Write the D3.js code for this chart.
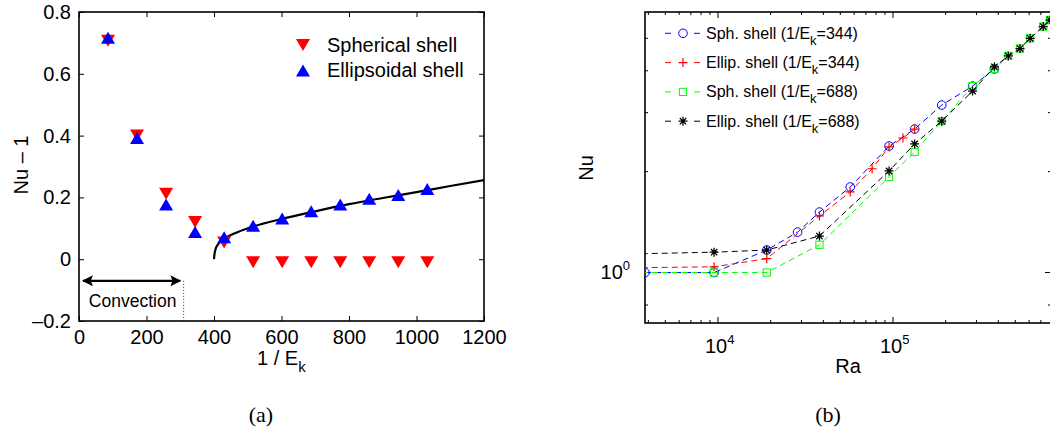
<!DOCTYPE html>
<html><head><meta charset="utf-8">
<script src="https://cdn.jsdelivr.net/npm/d3@7"></script>
<style>
body{margin:0;background:#fff}
text{font-family:"Liberation Sans",Arial,Helvetica,sans-serif;fill:#000}
text.serif{font-family:"Liberation Serif","DejaVu Serif",serif}
</style>
</head><body>
<svg id="c" width="1050" height="435"></svg>
<script>
// ---------- Panel (a) data ----------
const invEk   = [86,172,258,344,430,516,602,688,774,860,946,1032];
const sphNu1  = [0.707,0.400,0.212,0.120,0.054,-0.01,-0.01,-0.01,-0.01,-0.01,-0.01,-0.01];
const ellNu1  = [0.717,0.392,0.177,0.088,0.071,0.108,0.132,0.155,0.177,0.196,0.208,0.227];
const fitInvEk = [400,401,404,410,425,450,500,600,700,800,900,1000,1100,1200];
const fitNu1   = [0,0.012,0.030,0.045,0.062,0.078,0.100,0.130,0.155,0.178,0.198,0.217,0.237,0.256];
const xTicksA = [0,200,400,600,800,1000,1200];
const yTicksA = [-0.2,0,0.2,0.4,0.6,0.8];
const convRange = [12,300];
const convLevel = -0.07;
const onsetLine = 310;

// ---------- Panel (b) data ----------
const raSph344 = [3830,9500,19000,28500,38000,57000,95000,133000,190000,285000,380000];
const nuSph344 = [1.0,1.0,1.167,1.32,1.515,1.80,2.385,2.68,3.16,3.6,4.05];
const raEll344 = [1900,9500,19000,38000,57000,76000,95000,114000,133000];
const nuEll344 = [1.03,1.04,1.10,1.475,1.74,2.04,2.37,2.52,2.68];
const raSph688 = [1900,9500,19000,38000,95000,133000,190000,285000,380000,456000,532000,608000,722000,790000];
const nuSph688 = [1.0,1.0,1.0,1.21,1.93,2.29,2.83,3.6,4.05,4.43,4.66,5.0,5.42,5.67];
const raEll688 = [1900,9500,19000,38000,95000,133000,190000,285000,380000,456000,532000,608000,722000,790000];
const nuEll688 = [1.13,1.15,1.167,1.285,2.01,2.42,2.83,3.48,4.11,4.43,4.66,5.0,5.42,5.67];
const xMajorB = [1e4,1e5];
const xMinorB = [4000,5000,6000,7000,8000,9000,20000,30000,40000,50000,60000,70000,80000,90000,200000,300000,400000,500000,600000,700000,800000];
const yMajorB = [1];
const yMinorB = [0.8,2,3,4,5];
const legendB = ["Sph. shell (1/E|k|=344)","Ellip. shell (1/E|k|=344)","Sph. shell (1/E|k|=688)","Ellip. shell (1/E|k|=688)"];

const svg = d3.select("#c");

// =============== Panel (a) ===============
const A = {l:79, r:484, t:12, b:321};
const xa = d3.scaleLinear().domain([0,1200]).range([A.l,A.r]);
const ya = d3.scaleLinear().domain([-0.2,0.8]).range([A.b,A.t]);
const ga = svg.append("g");
ga.append("defs").append("clipPath").attr("id","clipA")
  .append("rect").attr("x",A.l).attr("y",A.t).attr("width",A.r-A.l).attr("height",A.b-A.t);

function boxAxes(g, x, y, box, xt, yt, fmtX, fmtY, fs){
  g.append("g").attr("transform",`translate(0,${box.b})`)
    .call(d3.axisBottom(x).tickValues(xt).tickSize(-5).tickPadding(9).tickFormat(fmtX));
  g.append("g").attr("transform",`translate(0,${box.t})`)
    .call(d3.axisTop(x).tickValues(xt).tickSize(-5).tickFormat(""));
  g.append("g").attr("transform",`translate(${box.l},0)`)
    .call(d3.axisLeft(y).tickValues(yt).tickSize(-5).tickPadding(8).tickFormat(fmtY));
  g.append("g").attr("transform",`translate(${box.r},0)`)
    .call(d3.axisRight(y).tickValues(yt).tickSize(-5).tickFormat(""));
  g.selectAll(".domain").remove();
  g.selectAll(".tick line").attr("stroke","#000").attr("stroke-width",1);
  g.selectAll(".tick text").style("font-size",fs).style("font-family","Liberation Sans, Arial, sans-serif").attr("fill","#000");
}
boxAxes(ga, xa, ya, A, xTicksA, yTicksA, d3.format("d"),
  d => d===0 ? "0" : (d<0 ? "\u2013"+Math.abs(d).toFixed(1) : d.toFixed(1)), "20px");
ga.append("rect").attr("x",A.l).attr("y",A.t).attr("width",A.r-A.l).attr("height",A.b-A.t)
  .attr("fill","none").attr("stroke","#000").attr("stroke-width",1.6);

// fit curve
ga.append("path").datum(fitInvEk.map((v,i)=>[v,fitNu1[i]]))
  .attr("clip-path","url(#clipA)")
  .attr("d", d3.line().x(d=>xa(d[0])).y(d=>ya(d[1])).curve(d3.curveMonotoneX))
  .attr("fill","none").attr("stroke","#000").attr("stroke-width",2.2);

const triDown = "M0,6L-7,-6L7,-6Z", triUp = "M0,-6L7,6L-7,6Z";
ga.selectAll(".sph").data(invEk).join("path")
  .attr("d",triDown).attr("fill","#ff0000")
  .attr("transform",(d,i)=>`translate(${xa(d)},${ya(sphNu1[i])})`);
ga.selectAll(".ell").data(invEk).join("path")
  .attr("d",triUp).attr("fill","#0000ff")
  .attr("transform",(d,i)=>`translate(${xa(d)},${ya(ellNu1[i])})`);

// convection arrow
const defs = ga.select("defs");
defs.append("marker").attr("id","arr").attr("viewBox","0 0 10 10").attr("refX",9).attr("refY",5)
  .attr("markerWidth",5).attr("markerHeight",5).attr("orient","auto-start-reverse")
  .attr("markerUnits","strokeWidth")
  .append("path").attr("d","M0,0L10,5L0,10L2,5Z").attr("fill","#000");
ga.append("line").attr("x1",xa(convRange[0])).attr("x2",xa(convRange[1]))
  .attr("y1",ya(convLevel)).attr("y2",ya(convLevel))
  .attr("stroke","#000").attr("stroke-width",2.2)
  .attr("marker-start","url(#arr)").attr("marker-end","url(#arr)");
ga.append("line").attr("x1",xa(onsetLine)).attr("x2",xa(onsetLine))
  .attr("y1",ya(convLevel)).attr("y2",A.b)
  .attr("stroke","#000").attr("stroke-width",0.8).attr("stroke-dasharray","1,2");
ga.append("text").attr("x",(xa(convRange[0])+xa(convRange[1]))/2+1).attr("y",307)
  .attr("text-anchor","middle").style("font-size","17.5px").text("Convection");

// legend (a)
const legA = [["Spherical shell",triDown,"#ff0000"],["Ellipsoidal shell",triUp,"#0000ff"]];
legA.forEach((d,i)=>{
  const yy = 45 + i*25.5;
  ga.append("path").attr("d",d[1]).attr("fill",d[2]).attr("transform",`translate(303,${yy})`);
  ga.append("text").attr("x",327).attr("y",yy+6.5).style("font-size","20px").text(d[0]);
});

// labels (a)
ga.append("text").attr("transform","translate(28,165) rotate(-90)")
  .attr("text-anchor","middle").style("font-size","20px").text("Nu \u2013 1");
const xl = ga.append("text").attr("x",257).attr("y",365).style("font-size","20px");
xl.append("tspan").text("1 / E");
xl.append("tspan").attr("dy",7).style("font-size","15px").text("k");
svg.append("text").attr("class","serif").attr("x",261).attr("y",422).attr("text-anchor","middle")
  .style("font-size","22px").text("(a)");

// =============== Panel (b) ===============
const B = {l:645, r:1051, t:12, b:323};
const xb = d3.scaleLog().domain([3828,8.0e5]).range([B.l,B.r]);
const yb = d3.scaleLog().domain([0.707,5.99]).range([B.b,B.t]);
const gb = svg.append("g");
gb.append("defs").append("clipPath").attr("id","clipB")
  .append("rect").attr("x",B.l).attr("y",B.t).attr("width",B.r-B.l).attr("height",B.b-B.t);

function ticksB(){
  const g = gb.append("g").attr("stroke","#000").attr("stroke-width",1);
  xMajorB.forEach(v=>{
    g.append("line").attr("x1",xb(v)).attr("x2",xb(v)).attr("y1",B.b).attr("y2",B.b-6);
    g.append("line").attr("x1",xb(v)).attr("x2",xb(v)).attr("y1",B.t).attr("y2",B.t+6);
  });
  xMinorB.forEach(v=>{
    g.append("line").attr("x1",xb(v)).attr("x2",xb(v)).attr("y1",B.b).attr("y2",B.b-3);
    g.append("line").attr("x1",xb(v)).attr("x2",xb(v)).attr("y1",B.t).attr("y2",B.t+3);
  });
  yMajorB.forEach(v=>{
    g.append("line").attr("y1",yb(v)).attr("y2",yb(v)).attr("x1",B.l).attr("x2",B.l+6);
    g.append("line").attr("y1",yb(v)).attr("y2",yb(v)).attr("x1",B.r).attr("x2",B.r-6);
  });
  yMinorB.forEach(v=>{
    g.append("line").attr("y1",yb(v)).attr("y2",yb(v)).attr("x1",B.l).attr("x2",B.l+3);
    g.append("line").attr("y1",yb(v)).attr("y2",yb(v)).attr("x1",B.r).attr("x2",B.r-3);
  });
}
ticksB();
gb.append("rect").attr("x",B.l).attr("y",B.t).attr("width",B.r-B.l).attr("height",B.b-B.t)
  .attr("fill","none").attr("stroke","#000").attr("stroke-width",1.6);

// tick labels (b)
xMajorB.forEach(v=>{
  const t = gb.append("text").attr("x",xb(v)-13).attr("y",353).style("font-size","20px");
  t.append("tspan").text("10");
  t.append("tspan").attr("dy",-9).style("font-size","13px").text(String(Math.round(Math.log10(v))));
});
yMajorB.forEach(v=>{
  const t = gb.append("text").attr("x",B.l-15).attr("y",yb(v)+6.5).attr("text-anchor","end").style("font-size","20px");
  t.append("tspan").text("10");
  t.append("tspan").attr("dy",-9).style("font-size","13px").text(String(Math.round(Math.log10(v))));
});
gb.append("text").attr("x",848).attr("y",373).attr("text-anchor","middle").style("font-size","20px").text("Ra");
gb.append("text").attr("transform","translate(593,168) rotate(-90)").attr("text-anchor","middle")
  .style("font-size","20px").text("Nu");
svg.append("text").attr("class","serif").attr("x",828).attr("y",422).attr("text-anchor","middle")
  .style("font-size","22px").text("(b)");

const mk = {
  circle: (g,c)=>g.append("circle").attr("r",4.3).attr("fill","none").attr("stroke",c).attr("stroke-width",1),
  plus: (g,c)=>g.append("path").attr("d","M-4.5,0H4.5M0,-4.5V4.5").attr("stroke",c).attr("stroke-width",1.2).attr("fill","none"),
  square: (g,c)=>g.append("rect").attr("x",-3.6).attr("y",-3.6).attr("width",7.2).attr("height",7.2).attr("fill","none").attr("stroke",c).attr("stroke-width",1),
  star: (g,c)=>g.append("path").attr("d","M-4.5,0H4.5M0,-4.5V4.5M-3.2,-3.2L3.2,3.2M-3.2,3.2L3.2,-3.2").attr("stroke",c).attr("stroke-width",1.3).attr("fill","none")
};
const seriesB = [
  {ra:raSph344, nu:nuSph344, c:"#0000ff", m:"circle"},
  {ra:raEll344, nu:nuEll344, c:"#ff0000", m:"plus"},
  {ra:raSph688, nu:nuSph688, c:"#00ff00", m:"square"},
  {ra:raEll688, nu:nuEll688, c:"#000000", m:"star"}
];
const plotB = gb.append("g").attr("clip-path","url(#clipB)");
const lineB = d3.line().x(d=>xb(d[0])).y(d=>yb(d[1]));
seriesB.forEach(s=>{
  const pts = s.ra.map((r,i)=>[r,s.nu[i]]);
  plotB.append("path").datum(pts).attr("d",lineB).attr("fill","none")
    .attr("stroke",s.c).attr("stroke-width",1).attr("stroke-dasharray","6,4");
  pts.forEach(p=>{
    if(p[0] < 3800) return;
    const g = plotB.append("g").attr("transform",`translate(${xb(p[0])},${yb(p[1])})`);
    mk[s.m](g,s.c);
  });
});

// legend (b)
legendB.forEach((lab,i)=>{
  const s = seriesB[i];
  const yy = 33.3 + i*29.3;
  gb.append("line").attr("x1",665).attr("x2",671).attr("y1",yy).attr("y2",yy).attr("stroke",s.c).attr("stroke-width",1);
  gb.append("line").attr("x1",694).attr("x2",700).attr("y1",yy).attr("y2",yy).attr("stroke",s.c).attr("stroke-width",1);
  mk[s.m](gb.append("g").attr("transform",`translate(683,${yy})`), s.c);
  const parts = lab.split("|");
  const t = gb.append("text").attr("x",706).attr("y",yy+5.5).style("font-size","16px");
  t.append("tspan").text(parts[0]);
  t.append("tspan").attr("dy",6).style("font-size","13px").text(parts[1]);
  t.append("tspan").attr("dy",-6).text(parts[2]);
});
</script>
</body></html>
